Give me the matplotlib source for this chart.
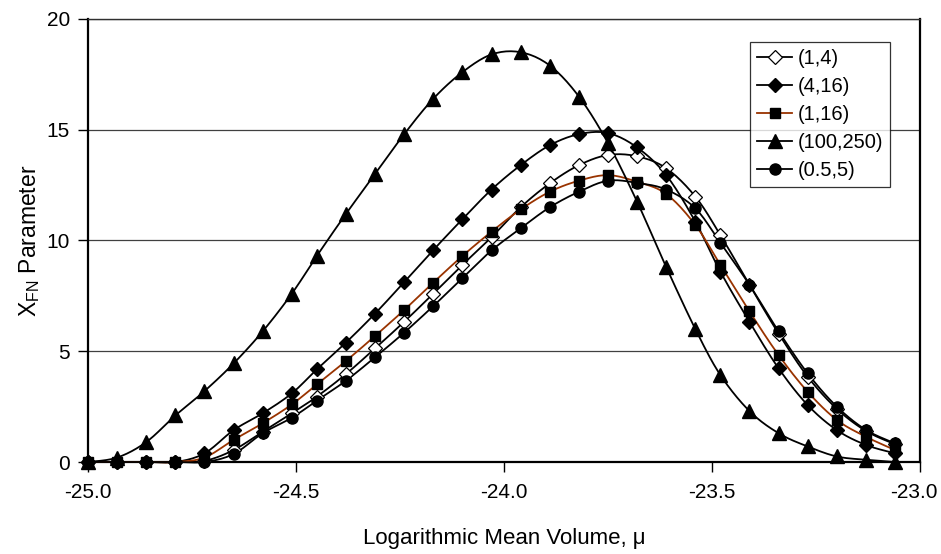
import numpy as np
import matplotlib
matplotlib.use('Agg')
import matplotlib.pyplot as plt
from matplotlib.transforms import ScaledTranslation

plt.rcParams['font.family'] = ['Liberation Sans', 'DejaVu Sans']
plt.rcParams['mathtext.fontset'] = 'custom'
plt.rcParams['mathtext.rm'] = 'Liberation Sans'
plt.rcParams['mathtext.it'] = 'Liberation Sans:italic'

# logarithmic mean volume (x positions of the markers)
mu = [-25.00, -24.93, -24.86, -24.79, -24.72, -24.65, -24.58, -24.51, -24.45,
      -24.38, -24.31, -24.24, -24.17, -24.10, -24.03, -23.96, -23.89, -23.82,
      -23.75, -23.68, -23.61, -23.54, -23.48, -23.41, -23.34, -23.27, -23.20,
      -23.13, -23.06]

x_1_4 = [0, 0, 0, 0, 0.05, 0.54, 1.37, 2.2, 2.95, 3.97, 5.13, 6.33, 7.6, 8.9,
         10.15, 11.5, 12.58, 13.4, 13.86, 13.8, 13.26, 11.98, 10.25, 8.0, 5.8,
         3.85, 2.4, 1.4, 0.8]
x_4_16 = [0, 0, 0, 0, 0.39, 1.44, 2.2, 3.1, 4.18, 5.39, 6.7, 8.12, 9.57, 10.96,
          12.3, 13.4, 14.3, 14.8, 14.85, 14.2, 12.95, 10.85, 8.6, 6.33, 4.23,
          2.57, 1.44, 0.77, 0.39]
x_1_16 = [0, 0, 0, 0, 0.2, 1.0, 1.75, 2.6, 3.5, 4.56, 5.69, 6.86, 8.1, 9.3,
          10.4, 11.4, 12.2, 12.7, 12.95, 12.65, 12.1, 10.7, 8.9, 6.8, 4.83,
          3.17, 1.9, 1.14, 0.54]
x_100_250 = [0, 0.2, 0.9, 2.1, 3.2, 4.45, 5.9, 7.6, 9.3, 11.2, 13.0, 14.8, 16.4,
             17.6, 18.4, 18.5, 17.9, 16.5, 14.4, 11.75, 8.8, 6.0, 3.93, 2.3,
             1.3, 0.7, 0.25, 0.1, 0.0]
x_05_5 = [0, 0, 0, 0, 0, 0.36, 1.3, 2.0, 2.77, 3.67, 4.73, 5.84, 7.04, 8.3,
          9.55, 10.55, 11.5, 12.2, 12.7, 12.6, 12.3, 11.45, 9.9, 8.0, 5.9, 4.0,
          2.5, 1.45, 0.84]

labels = ['(1,4)', '(4,16)', '(1,16)', '(100,250)', '(0.5,5)']


def smooth(xs, ys, n=12):
    # Catmull-Rom curve through the points, like Excel's smoothed line
    p = np.column_stack([xs, ys]).astype(float)
    p = np.vstack([p[0], p, p[-1]])
    out = []
    t = np.linspace(0, 1, n, endpoint=False)[:, None]
    for i in range(1, len(p) - 2):
        p0, p1, p2, p3 = p[i - 1], p[i], p[i + 1], p[i + 2]
        seg = 0.5 * ((2 * p1) + (-p0 + p2) * t
                     + (2 * p0 - 5 * p1 + 4 * p2 - p3) * t ** 2
                     + (-p0 + 3 * p1 - 3 * p2 + p3) * t ** 3)
        out.append(seg)
    out.append(p[-2][None, :])
    out = np.vstack(out)
    return out[:, 0], out[:, 1]


fig = plt.figure(figsize=(9.41, 5.54), dpi=100)
ax = fig.add_axes([88 / 941, 1 - 462 / 554, 832 / 941, 443 / 554])

styles = [
    (x_1_4, dict(marker='D', mfc='white', mec='black', ms=7.5, mew=0.9), 'black'),
    (x_4_16, dict(marker='D', mfc='black', mec='black', ms=7.5), 'black'),
    (x_1_16, dict(marker='s', mfc='black', mec='black', ms=7.5), '#993300'),
    (x_100_250, dict(marker='^', mfc='black', mec='black', ms=9.5), 'black'),
    (x_05_5, dict(marker='o', mfc='black', mec='black', ms=8), 'black'),
]

handles = []
for (ys, mk, col), lab in zip(styles, labels):
    sx, sy = smooth(mu, ys)
    ax.plot(sx, sy, color=col, lw=1.3, zorder=3, clip_on=False)
    ax.plot(mu, ys, ls='none', zorder=4, clip_on=False, **mk)
    h, = ax.plot([], [], color=col, lw=1.3, **mk)
    h.set_label(lab)
    handles.append(h)

ax.set_xlim(-25, -23)
ax.set_ylim(0, 20)
ax.set_xticks([-25, -24.5, -24, -23.5, -23])
ax.set_xticklabels(['-25.0', '-24.5', '-24.0', '-23.5', '-23.0'])
ax.set_yticks([0, 5, 10, 15, 20])
ax.tick_params(axis='both', direction='out', length=7, width=1, labelsize=15,
               colors='black')
ax.tick_params(axis='x', pad=8)
ax.tick_params(axis='y', pad=6)
# nudge the last x label so it stays inside the figure, as in the original
last = ax.get_xticklabels()[-1]
last.set_transform(last.get_transform()
                   + ScaledTranslation(-6 / 100, 0, fig.dpi_scale_trans))
ax.yaxis.grid(True, color='#404040', lw=0.9)
ax.set_axisbelow(True)
for side in ['left', 'bottom', 'right']:
    ax.spines[side].set_linewidth(1.6)
    ax.spines[side].set_color('black')
ax.spines['top'].set_linewidth(1.0)
ax.spines['top'].set_color('#303030')

ax.set_xlabel('Logarithmic Mean Volume, \u03bc', fontsize=16, labelpad=19)
ax.set_ylabel(r'X$_{\mathrm{FN}}$ Parameter', fontsize=16.5, labelpad=3)

leg = ax.legend(handles=handles, loc='upper right', bbox_to_anchor=(0.964, 0.948),
                fontsize=14.5, frameon=True, fancybox=False, borderpad=0.35,
                handlelength=1.75, handletextpad=0.25, labelspacing=0.45,
                borderaxespad=0)
leg.get_frame().set_edgecolor('black')
leg.get_frame().set_linewidth(0.9)

fig.savefig('out.png', dpi=100, facecolor='white')
